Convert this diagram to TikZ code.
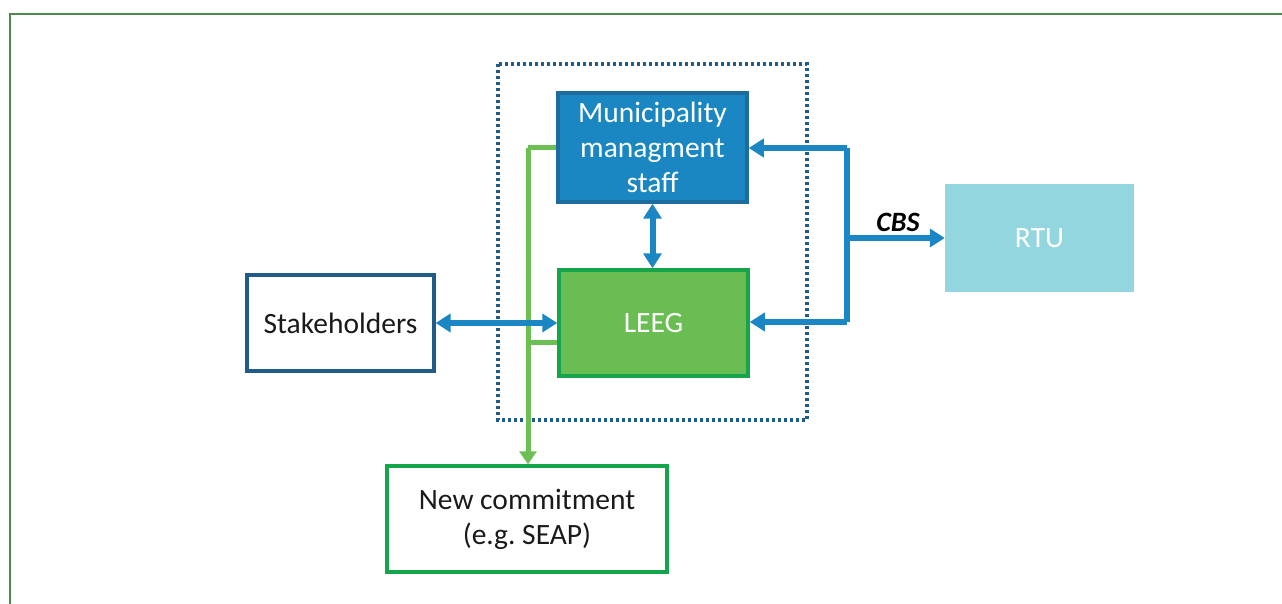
\documentclass[tikz,border=0pt]{standalone}
\usepackage{fontspec}
\setmainfont{Carlito}
\usetikzlibrary{arrows.meta}
\definecolor{frameG}{HTML}{4E8A4E}
\definecolor{muniF}{HTML}{1B87C2}
\definecolor{muniD}{HTML}{1E6C9E}
\definecolor{leegF}{HTML}{6ABD52}
\definecolor{leegD}{HTML}{16A54A}
\definecolor{stkD}{HTML}{1F5C8A}
\definecolor{rtuF}{HTML}{94D6DF}
\definecolor{arrB}{HTML}{1A86C4}
\definecolor{lineG}{HTML}{6CBF52}
\definecolor{txtK}{HTML}{1A1A1A}
\tikzset{
  boxbase/.style={rectangle, align=center, inner sep=0pt, font=\fontsize{29.5}{35}\selectfont},
  munibox/.style={boxbase, fill=muniF, draw=muniD, line width=3.5pt, text=white},
  leegbox/.style={boxbase, fill=leegF, draw=leegD, line width=3.5pt, text=white},
  stkbox/.style={boxbase, fill=white, draw=stkD, line width=3.2pt, text=txtK},
  rtubox/.style={boxbase, fill=rtuF, text=white},
  newbox/.style={boxbase, fill=white, draw=leegD, line width=3.5pt, text=txtK},
  bluearr/.style={draw=arrB, line width=6pt, -{Triangle[length=15pt,width=18pt]}},
  bluebi/.style={draw=arrB, line width=6pt, {Triangle[length=15pt,width=18pt]}-{Triangle[length=15pt,width=18pt]}},
  greenln/.style={draw=lineG, line width=5pt},
  greenarr/.style={greenln, -{Triangle[length=13pt,width=17pt]}},
  dotbox/.style={draw=stkD, line width=3.6pt, dash pattern=on 3pt off 3pt},
}
\begin{document}
\begin{tikzpicture}[x=1pt,y=-1pt]
\useasboundingbox (0,0) rectangle (1282,604);
% outer frame (top and left edges visible)
\begin{scope}
\clip (0,0) rectangle (1282,604);
\draw[frameG, line width=2pt] (10,640) -- (10,14) -- (1300,14);
\end{scope}
% dotted group
\draw[dotbox] (498,64) rectangle (807,420);
% boxes
\node[munibox, minimum width=189pt, minimum height=109pt] (muni) at (652.5,147.5) {Municipality\\managment\\staff};
\node[leegbox, minimum width=189pt, minimum height=106pt] (leeg) at (653.5,323) {LEEG};
\node[stkbox, minimum width=187pt, minimum height=96pt] (stk) at (340.5,323) {Stakeholders};
\node[rtubox, minimum width=189pt, minimum height=108pt] (rtu) at (1039.5,238) {RTU};
\node[newbox, minimum width=280pt, minimum height=106pt] (newc) at (527,519) {New commitment\\(e.g.\ SEAP)};
% green lines
\coordinate (gtop) at (528,148);
\coordinate (gmid) at (528,342);
\draw[greenln] (muni.west |- gtop) -- (gtop);
\draw[greenarr] (gtop) -- (gtop |- newc.north);
\draw[greenln] (leeg.west |- gmid) -- (gmid);
% blue arrows
\draw[bluebi] (stk.east) -- (leeg.west);
\draw[bluebi] (muni.south) -- (leeg.north -| muni.south);
\coordinate (rb) at (847,238);
\coordinate (rbt) at (847,148);
\coordinate (rbb) at (847,322);
\draw[bluearr] (rbt) -- (muni.east |- rbt);
\draw[draw=arrB, line width=6pt] (rbt) -- (rbb);
\draw[bluearr] (rbb) -- (leeg.east |- rbb);
\draw[bluearr] (rb) -- (rtu.west);
\node[font=\fontsize{28}{30}\selectfont\bfseries\itshape, text=black, inner sep=0pt] (cbs) at (898,222) {CBS};
\end{tikzpicture}
\end{document}
